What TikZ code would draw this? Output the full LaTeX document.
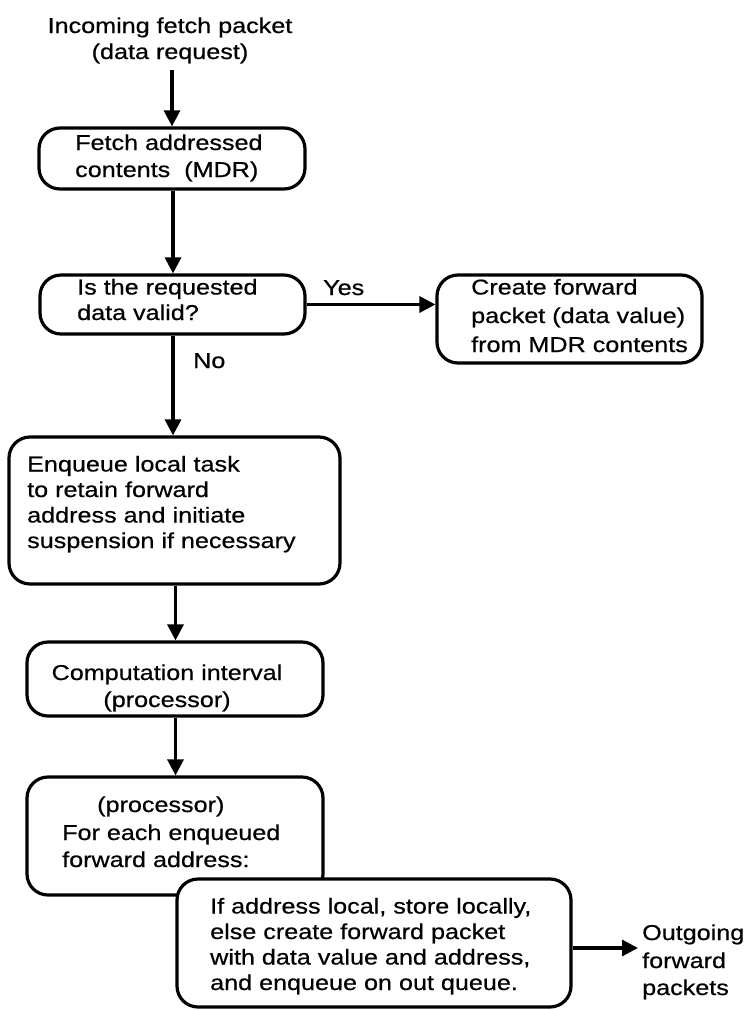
\documentclass[tikz,border=0pt]{standalone}
\usepackage{fontspec}
\setmainfont{Liberation Sans}[FakeStretch=1.17,FakeBold=0.6]
\usetikzlibrary{arrows.meta}
\begin{document}
\begin{tikzpicture}[x=1pt,y=-1pt,
  flowbox/.style={draw, line width=3.2pt, rounded corners=21pt, fill=white, inner sep=0pt},
  txt/.style={anchor=base west, inner sep=0pt, align=left, font=\fontsize{21.5}{25.5}\selectfont},
  ctxt/.style={txt, anchor=base, align=center},
  arr/.style={line width=3.2pt, -{Triangle[length=16pt,width=16pt]}}]
\useasboundingbox (0,0) rectangle (754,1010);

% boxes
\node[flowbox, minimum width=266pt, minimum height=61pt] (fetch) at (172,158.5) {};
\node[flowbox, minimum width=265pt, minimum height=59pt] (valid) at (172.5,304.5) {};
\node[flowbox, minimum width=265pt, minimum height=88pt] (create) at (569.5,319) {};
\node[flowbox, minimum width=331pt, minimum height=147pt] (enq) at (174.5,510.5) {};
\node[flowbox, minimum width=296pt, minimum height=74pt] (comp) at (175,679) {};
\node[flowbox, minimum width=296pt, minimum height=118pt] (each) at (175,836) {};
\node[flowbox, minimum width=394pt, minimum height=128pt] (store) at (374,943) {};

% texts (each anchored on the baseline of its last line)
\node[ctxt] (incoming) at (170,59) {Incoming fetch packet\\[0.5pt](data request)};
\node[txt] (fetchT) at (75,177) {Fetch addressed\\[1.5pt]contents\ \ (MDR)};
\node[txt] (validT) at (77,320) {Is the requested\\data valid?};
\node[txt] (yes) at (323,295) {Yes};
\node[txt] (no) at (193,368) {No};
\node[txt] (createT) at (471,352) {Create forward\\[3pt]packet (data value)\\[3.5pt]from MDR contents};
\node[txt] (enqT) at (27,548) {Enqueue local task\\to retain forward\\address and initiate\\suspension if necessary};
\node[ctxt] (compT) at (167,707) {Computation interval\\[1.5pt](processor)};
\node[txt] (eachT) at (62,867) {\hspace*{35pt}(processor)\\[2.5pt]For each enqueued\\[1.5pt]forward address:};
\node[txt] (storeT) at (210,990) {If address local, store locally,\\else create forward packet\\with data value and address,\\and enqueue on out queue.};
\node[txt] (outT) at (642,995) {Outgoing\\[2.5pt]forward\\[1.5pt]packets};

% connectors
\coordinate (inTail) at (172,70);
\coordinate (col) at (173,0);
\coordinate (col2) at (175.5,0);
\coordinate (outTip) at (638,948);
\draw[arr] (inTail) -- (fetch.north -| inTail);
\draw[arr] (fetch.south -| col) -- (valid.north -| col);
\draw[arr] (valid.east) -- (valid.east -| create.west);
\draw[arr] (valid.south -| col) -- (enq.north -| col);
\draw[arr] (enq.south -| col2) -- (comp.north -| col2);
\draw[arr] (comp.south -| col2) -- (each.north -| col2);
\draw[arr] (store.east |- outTip) -- (outTip);
\end{tikzpicture}
\end{document}
